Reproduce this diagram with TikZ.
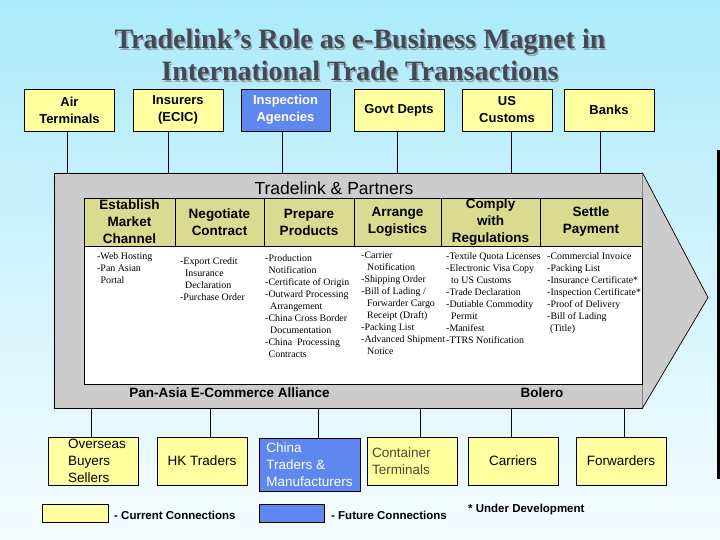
\documentclass[tikz,border=0pt]{standalone}
\usepackage{fontspec}
\setmainfont{Liberation Serif}
\setsansfont{Liberation Sans}
\definecolor{bgtop}{RGB}{172,234,250}
\definecolor{bgmid}{RGB}{205,243,252}
\definecolor{bgbot}{RGB}{246,252,255}
\definecolor{ybox}{RGB}{255,255,160}
\definecolor{bbox}{RGB}{95,135,240}
\definecolor{gbox}{RGB}{204,204,204}
\definecolor{hbox}{RGB}{218,218,145}
\definecolor{ttl}{RGB}{66,74,84}
\definecolor{ttlsh}{RGB}{150,165,178}
\definecolor{ctext}{RGB}{72,72,52}
\begin{document}
\begin{tikzpicture}[x=1pt,y=-1pt,
  topbox/.style={draw=black, line width=0.7pt, fill=ybox, minimum width=90pt, minimum height=42pt, inner sep=0pt, align=center, font=\sffamily\bfseries\fontsize{13}{17}\selectfont},
  botbox/.style={draw=black, line width=0.7pt, fill=ybox, minimum width=90pt, minimum height=48pt, inner sep=0pt, align=left, font=\sffamily\fontsize{13.5}{16.7}\selectfont},
  futbox/.style={fill=bbox, text=white},
  hdrcell/.style={draw=black, line width=0.7pt, fill=hbox, minimum height=48pt, inner sep=0pt},
  hdrtext/.style={align=center, inner sep=0pt, font=\sffamily\bfseries\fontsize{13.5}{17}\selectfont},
  coltext/.style={anchor=north west, inner sep=0pt, align=left, font=\rmfamily\fontsize{9.9}{12}\selectfont},
  titletext/.style={anchor=base, inner sep=0pt, font=\rmfamily\bfseries\fontsize{28}{32}\selectfont},
  conn/.style={draw=black, line width=0.7pt},
  legtext/.style={anchor=west, inner sep=0pt, font=\sffamily\bfseries\fontsize{11.5}{13}\selectfont}
]
\useasboundingbox (0,0) rectangle (720,540);
\shade[top color=bgtop, middle color=bgmid, bottom color=bgbot] (0,0) rectangle (720,540);
\fill[black] (716.5,150) rectangle (720,479);

% title
\node[titletext, text=ttlsh] at (361.5,50.5) {Tradelink’s Role as e-Business Magnet in};
\node[titletext, text=ttl] (t1) at (360,49) {Tradelink’s Role as e-Business Magnet in};
\node[titletext, text=ttlsh] at (361.5,82.5) {International Trade Transactions};
\node[titletext, text=ttl] (t2) at (360,81) {International Trade Transactions};

% main gray block and arrow
\node[draw=black, line width=0.7pt, fill=gbox, minimum width=588pt, minimum height=235pt, inner sep=0pt] (main) at (348,290.5) {};
\coordinate (tip) at (708,297.5);
\draw[line width=0.7pt, fill=gbox] (main.north east) -- (tip) -- (main.south east);
\node[inner sep=0pt, font=\sffamily\fontsize{17.5}{20}\selectfont] (tp) at (334,188) {Tradelink \& Partners};

% header cells
\node[hdrcell, minimum width=91pt] (h1) at (129.5,222) {};
\node[hdrcell, minimum width=89pt] (h2) at (219.5,222) {};
\node[hdrcell, minimum width=90pt] (h3) at (309,222) {};
\node[hdrcell, minimum width=87pt] (h4) at (397.5,222) {};
\node[hdrcell, minimum width=99pt] (h5) at (490.5,222) {};
\node[hdrcell, minimum width=102pt] (h6) at (591,222) {};
\node[hdrtext] (ht1) at (h1) {Establish\\Market\\Channel};
\node[hdrtext] (ht2) at (h2) {Negotiate\\Contract};
\node[hdrtext] (ht3) at (h3) {Prepare\\Products};
\node[hdrtext] (ht4) at (h4) {Arrange\\Logistics};
\node[hdrtext] (ht5) at (h5) {Comply\\with\\Regulations};
\node[hdrtext] (ht6) at (h6) {Settle\\Payment};

% white panel
\node[draw=black, line width=0.7pt, fill=white, minimum width=558pt, minimum height=138pt, inner sep=0pt] (panel) at (363,315) {};

% column texts
\node[coltext] (c1) at (97,252) {-Web Hosting\\-Pan Asian\\\hspace*{3.5pt}Portal};
\node[coltext] (c2) at (180,257) {-Export Credit\\\hspace*{5pt}Insurance\\\hspace*{5pt}Declaration\\-Purchase Order};
\node[coltext] (c3) at (265,254) {-Production\\\hspace*{3.5pt}Notification\\-Certificate of Origin\\-Outward Processing\\\hspace*{5pt}Arrangement\\-China Cross Border\\\hspace*{5pt}Documentation\\-China\ \ Processing\\\hspace*{3.5pt}Contracts};
\node[coltext] (c4) at (361,252) {-Carrier\\\hspace*{6pt}Notification\\-Shipping Order\\-Bill of Lading /\\\hspace*{6pt}Forwarder Cargo\\\hspace*{6pt}Receipt (Draft)\\-Packing List\\-Advanced Shipment\\\hspace*{6pt}Notice};
\node[coltext] (c5) at (446,252) {-Textile Quota Licenses\\-Electronic Visa Copy\\\hspace*{5pt}to US Customs\\-Trade Declaration\\-Dutiable Commodity\\\hspace*{5pt}Permit\\-Manifest\\-TTRS Notification};
\node[coltext] (c6) at (547,252) {-Commercial Invoice\\-Packing List\\-Insurance Certificate*\\-Inspection Certificate*\\-Proof of Delivery\\-Bill of Lading\\\hspace*{3pt}(Title)};

% bottom labels in gray band
\node[inner sep=0pt, font=\sffamily\bfseries\fontsize{13.5}{16}\selectfont] (pan) at (229.5,393) {Pan-Asia E-Commerce Alliance};
\node[inner sep=0pt, font=\sffamily\bfseries\fontsize{13.5}{16}\selectfont] (bol) at (542,393) {Bolero};

% top boxes
\node[topbox] (air) at (69.5,110) {Air\\Terminals};
\node[topbox] (ins) at (178,110) {Insurers\\(ECIC)};
\node[topbox, futbox, minimum width=89pt] (insp) at (285.5,110) {Inspection\\Agencies};
\node[topbox] (govt) at (399,110) {Govt Depts};
\node[topbox] (usc) at (507,110) {US\\Customs};
\node[topbox] (bank) at (609,110) {Banks};

\draw[conn] ([xshift=-2.5pt]air.south) -- ([xshift=-2.5pt]air.south |- main.north);
\draw[conn] ([xshift=-10pt]ins.south) -- ([xshift=-10pt]ins.south |- main.north);
\draw[conn] ([xshift=-3.5pt]insp.south) -- ([xshift=-3.5pt]insp.south |- main.north);
\draw[conn] ([xshift=-2pt]govt.south) -- ([xshift=-2pt]govt.south |- main.north);
\draw[conn] ([xshift=4pt]usc.south) -- ([xshift=4pt]usc.south |- main.north);
\draw[conn] ([xshift=-9pt]bank.south) -- ([xshift=-9pt]bank.south |- main.north);

% bottom boxes
\node[botbox, text width=50pt] (ovs) at (93,461) {Overseas\\Buyers\\Sellers};
\node[botbox, align=center] (hk) at (202,461) {HK Traders};
\node[botbox, futbox, minimum width=101pt, minimum height=53pt] (china) at (309.5,464.5) {China\\Traders \&\\Manufacturers};
\node[botbox, text width=80pt, text=ctext] (cont) at (412,461) {Container\\Terminals};
\node[botbox, align=center] (carr) at (513,461) {Carriers};
\node[botbox, align=center] (fwd) at (621,461) {Forwarders};

\draw[conn] ([xshift=-2pt]ovs.north) -- ([xshift=-2pt]ovs.north |- main.south);
\draw[conn] ([xshift=8pt]hk.north) -- ([xshift=8pt]hk.north |- main.south);
\draw[conn] ([xshift=8.5pt]china.north) -- ([xshift=8.5pt]china.north |- main.south);
\draw[conn] ([xshift=8pt]cont.north) -- ([xshift=8pt]cont.north |- main.south);
\draw[conn] ([xshift=-2pt]carr.north) -- ([xshift=-2pt]carr.north |- main.south);
\draw[conn] ([xshift=3pt]fwd.north) -- ([xshift=3pt]fwd.north |- main.south);

% legend
\node[draw=black, line width=0.7pt, fill=ybox, minimum width=66pt, minimum height=18pt, inner sep=0pt] (legy) at (75,513) {};
\node[legtext] (legyt) at (114,515) {- Current Connections};
\node[draw=black, line width=0.7pt, fill=bbox, minimum width=65pt, minimum height=18pt, inner sep=0pt] (legb) at (291.5,513) {};
\node[legtext] (legbt) at (331,515) {- Future Connections};
\node[legtext] (undev) at (468,510) {* Under Development};
\end{tikzpicture}
\end{document}
